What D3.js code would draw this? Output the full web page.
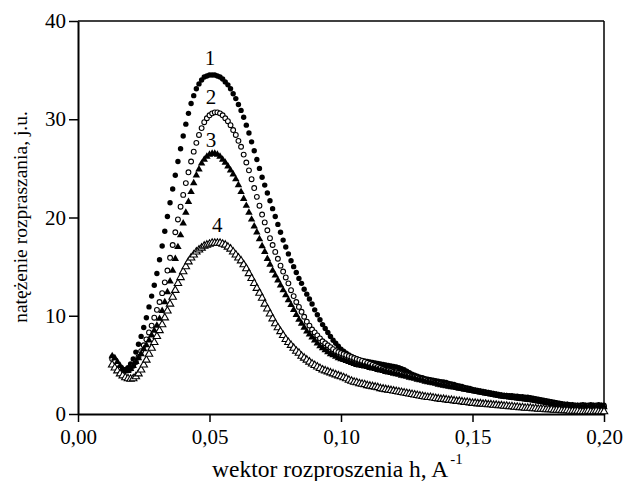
<!DOCTYPE html>
<html>
<head>
<meta charset="utf-8">
<script src="https://cdn.jsdelivr.net/npm/d3@7"></script>
<style>
  body { margin: 0; background: #fff; }
  text { font-family: "Liberation Serif", "Times New Roman", serif; fill: #000; }
</style>
</head>
<body>
<svg id="chart" width="633" height="481"></svg>
<script>
// measurement grid: h from 0.013 to 0.200, step 0.001
var hStart = 0.013;
var hStep = 0.001;

var xTicks = [0, 0.05, 0.10, 0.15, 0.20];
var yTicks = [0, 10, 20, 30, 40];

// 1 - filled circles
var series1 = [
  5.8, 5.4, 5.0, 4.7, 4.5, 4.5, 4.7, 5.1, 5.6, 6.3,
  7.1, 7.9, 8.8, 9.8, 10.9, 12.0, 13.1, 14.3, 15.7, 17.1,
  18.6, 20.1, 21.5, 22.9, 24.3, 25.7, 27.0, 28.3, 29.5, 30.6,
  31.6, 32.4, 33.1, 33.6, 34.0, 34.3, 34.4, 34.5, 34.5, 34.5,
  34.4, 34.3, 34.1, 33.8, 33.5, 33.1, 32.6, 32.1, 31.5, 30.9,
  30.2, 29.4, 28.6, 27.7, 26.8, 25.9, 25.0, 24.1, 23.3, 22.5,
  21.7, 20.9, 20.1, 19.3, 18.5, 17.7, 17.0, 16.3, 15.6, 15.0,
  14.4, 13.8, 13.3, 12.7, 12.2, 11.7, 11.2, 10.6, 10.1, 9.6,
  9.1, 8.7, 8.3, 7.9, 7.5, 7.2, 6.9, 6.6, 6.4, 6.2,
  6.0, 5.85, 5.7, 5.6, 5.5, 5.45, 5.4, 5.35, 5.3, 5.25,
  5.2, 5.15, 5.1, 5.05, 5.0, 4.95, 4.9, 4.85, 4.8, 4.7,
  4.6, 4.5, 4.35, 4.2, 4.05, 3.95, 3.85, 3.75, 3.7, 3.6,
  3.55, 3.5, 3.45, 3.4, 3.35, 3.3, 3.25, 3.2, 3.1, 3.05,
  3.0, 2.9, 2.85, 2.8, 2.7, 2.65, 2.6, 2.5, 2.45, 2.4,
  2.35, 2.3, 2.25, 2.2, 2.15, 2.1, 2.05, 2.0, 1.95, 1.9,
  1.9, 1.85, 1.85, 1.8, 1.8, 1.75, 1.75, 1.7, 1.7, 1.65,
  1.6, 1.55, 1.5, 1.45, 1.4, 1.35, 1.3, 1.25, 1.2, 1.15,
  1.1, 1.05, 1.0, 1.0, 0.95, 0.95, 0.9, 0.9, 0.9, 0.95,
  0.9, 0.9, 0.95, 0.9, 0.9, 0.95, 0.9, 0.9
];

// 2 - open circles
var series2 = [
  5.6, 5.3, 5.0, 4.7, 4.5, 4.4, 4.45, 4.6, 4.9, 5.3,
  5.8, 6.4, 7.0, 7.6, 8.3, 9.0, 9.8, 10.6, 11.4, 12.3,
  13.4, 14.6, 15.9, 17.2, 18.5, 19.8, 21.1, 22.3, 23.5, 24.6,
  25.7, 26.7, 27.6, 28.4, 29.1, 29.7, 30.1, 30.4, 30.6, 30.7,
  30.7, 30.6, 30.4, 30.1, 29.8, 29.4, 28.9, 28.4, 27.8, 27.2,
  26.4, 25.6, 24.8, 23.9, 23.0, 22.1, 21.2, 20.3, 19.5, 18.7,
  17.9, 17.2, 16.5, 15.8, 15.1, 14.5, 13.9, 13.3, 12.6, 12.0,
  11.4, 10.9, 10.4, 9.9, 9.4, 9.0, 8.6, 8.3, 8.0, 7.7,
  7.4, 7.2, 7.0, 6.8, 6.6, 6.4, 6.3, 6.2, 6.1, 6.0,
  5.9, 5.8, 5.7, 5.6, 5.5, 5.4, 5.3, 5.2, 5.1, 5.0,
  4.9, 4.8, 4.7, 4.6, 4.5, 4.45, 4.4, 4.3, 4.25, 4.2,
  4.1, 4.0, 3.95, 3.9, 3.8, 3.75, 3.7, 3.6, 3.55, 3.5,
  3.4, 3.35, 3.3, 3.2, 3.15, 3.1, 3.0, 2.95, 2.9, 2.85,
  2.8, 2.7, 2.65, 2.6, 2.55, 2.5, 2.45, 2.4, 2.35, 2.3,
  2.25, 2.2, 2.15, 2.1, 2.05, 2.0, 1.95, 1.9, 1.85, 1.8,
  1.8, 1.75, 1.7, 1.7, 1.65, 1.6, 1.6, 1.55, 1.5, 1.5,
  1.45, 1.4, 1.35, 1.3, 1.25, 1.2, 1.15, 1.1, 1.05, 1.0,
  0.95, 0.95, 0.9, 0.9, 0.85, 0.85, 0.8, 0.8, 0.8, 0.8,
  0.75, 0.8, 0.75, 0.75, 0.8, 0.75, 0.75, 0.75
];

// 3 - filled triangles
var series3 = [
  5.9, 5.7, 5.3, 4.9, 4.6, 4.4, 4.4, 4.6, 4.9, 5.3,
  5.7, 6.1, 6.6, 7.0, 7.5, 8.0, 8.5, 9.0, 9.7, 10.5,
  11.4, 12.4, 13.5, 14.6, 15.8, 17.0, 18.2, 19.4, 20.5, 21.6,
  22.6, 23.5, 24.3, 24.9, 25.5, 25.9, 26.2, 26.4, 26.5, 26.5,
  26.4, 26.2, 25.9, 25.6, 25.2, 24.8, 24.4, 23.9, 23.3, 22.6,
  21.9, 21.2, 20.5, 19.8, 19.1, 18.5, 17.8, 17.1, 16.5, 15.8,
  15.2, 14.6, 14.1, 13.6, 13.1, 12.6, 12.1, 11.6, 11.1, 10.6,
  10.1, 9.6, 9.2, 8.8, 8.4, 8.1, 7.8, 7.5, 7.2, 6.9,
  6.7, 6.5, 6.3, 6.1, 6.0, 5.85, 5.7, 5.6, 5.5, 5.4,
  5.3, 5.2, 5.1, 5.0, 4.95, 4.9, 4.85, 4.8, 4.7, 4.65,
  4.6, 4.5, 4.45, 4.4, 4.3, 4.25, 4.2, 4.1, 4.05, 4.0,
  3.9, 3.85, 3.8, 3.7, 3.65, 3.6, 3.5, 3.45, 3.4, 3.3,
  3.25, 3.2, 3.15, 3.1, 3.0, 2.95, 2.9, 2.85, 2.8, 2.75,
  2.7, 2.65, 2.6, 2.55, 2.5, 2.45, 2.4, 2.35, 2.3, 2.25,
  2.2, 2.15, 2.1, 2.05, 2.0, 1.95, 1.9, 1.85, 1.8, 1.8,
  1.75, 1.7, 1.7, 1.65, 1.6, 1.6, 1.55, 1.5, 1.5, 1.45,
  1.4, 1.35, 1.3, 1.25, 1.2, 1.15, 1.1, 1.05, 1.0, 0.95,
  0.9, 0.9, 0.85, 0.85, 0.8, 0.8, 0.75, 0.75, 0.75, 0.7,
  0.75, 0.7, 0.7, 0.75, 0.7, 0.7, 0.75, 0.7
];

// 4 - open triangles
var series4 = [
  5.0, 4.7, 4.4, 4.1, 3.9, 3.7, 3.6, 3.55, 3.6, 3.8,
  4.1, 4.5, 5.0, 5.5, 6.1, 6.7, 7.3, 7.9, 8.5, 9.1,
  9.8, 10.5, 11.2, 11.9, 12.6, 13.3, 13.9, 14.5, 15.0, 15.5,
  15.9, 16.2, 16.5, 16.7, 16.9, 17.1, 17.2, 17.3, 17.4, 17.4,
  17.4, 17.4, 17.3, 17.2, 17.0, 16.8, 16.5, 16.2, 15.9, 15.6,
  15.2, 14.8, 14.3, 13.8, 13.3, 12.8, 12.3, 11.8, 11.2, 10.7,
  10.2, 9.7, 9.2, 8.8, 8.4, 8.0, 7.6, 7.3, 7.0, 6.7,
  6.4, 6.2, 5.9, 5.7, 5.5, 5.3, 5.1, 4.95, 4.8, 4.65,
  4.5, 4.4, 4.3, 4.2, 4.1, 4.0, 3.9, 3.8, 3.7, 3.6,
  3.45, 3.35, 3.25, 3.2, 3.1, 3.05, 3.0, 2.9, 2.85, 2.8,
  2.75, 2.7, 2.6, 2.55, 2.5, 2.45, 2.4, 2.35, 2.3, 2.25,
  2.2, 2.15, 2.1, 2.05, 2.0, 1.95, 1.9, 1.85, 1.8, 1.75,
  1.7, 1.7, 1.65, 1.6, 1.55, 1.5, 1.5, 1.45, 1.4, 1.4,
  1.35, 1.3, 1.3, 1.25, 1.2, 1.2, 1.15, 1.1, 1.1, 1.05,
  1.05, 1.0, 1.0, 0.95, 0.95, 0.9, 0.9, 0.85, 0.85, 0.8,
  0.8, 0.75, 0.75, 0.7, 0.7, 0.65, 0.65, 0.6, 0.6, 0.6,
  0.55, 0.55, 0.5, 0.5, 0.5, 0.45, 0.45, 0.45, 0.4, 0.4,
  0.4, 0.35, 0.35, 0.35, 0.3, 0.3, 0.3, 0.3, 0.25, 0.25,
  0.25, 0.3, 0.25, 0.25, 0.3, 0.25, 0.25, 0.25
];

// curve numbers written above the peaks
var labelText = ["1", "2", "3", "4"];
var labelH = [0.0502, 0.0506, 0.0506, 0.0529];
var labelV = [35.5, 31.6, 27.2, 18.5];

var svg = d3.select("#chart");

var xScale = d3.scaleLinear().domain([0, 0.2]).range([78, 604]);
var yScale = d3.scaleLinear().domain([0, 40]).range([414, 21]);

function toPoints(values) {
    return values.map(function (v, i) {
        return { h: hStart + i * hStep, v: v };
    });
}

// frame (top and right)
svg.append("line")
    .attr("x1", xScale(0)).attr("x2", xScale(0.2))
    .attr("y1", yScale(40)).attr("y2", yScale(40))
    .attr("stroke", "black").attr("stroke-width", 1.5);
svg.append("line")
    .attr("x1", xScale(0.2)).attr("x2", xScale(0.2))
    .attr("y1", yScale(40)).attr("y2", yScale(0))
    .attr("stroke", "black").attr("stroke-width", 1.5);

var xAxis = d3.axisBottom(xScale)
    .tickValues(xTicks)
    .tickFormat(function (d) { return d3.format(".2f")(d).replace(".", ","); })
    .tickSizeInner(8)
    .tickSizeOuter(0)
    .tickPadding(7);

var yAxis = d3.axisLeft(yScale)
    .tickValues(yTicks)
    .tickSizeInner(9)
    .tickSizeOuter(0)
    .tickPadding(3);

var gx = svg.append("g")
    .attr("transform", "translate(0," + yScale(0) + ")")
    .call(xAxis);
var gy = svg.append("g")
    .attr("transform", "translate(" + xScale(0) + ",0)")
    .call(yAxis);

[gx, gy].forEach(function (g) {
    g.select(".domain").attr("stroke", "black").attr("stroke-width", 2);
    g.selectAll(".tick line").attr("stroke", "black").attr("stroke-width", 1.5);
    g.selectAll(".tick text")
        .attr("font-size", 21)
        .attr("fill", "black");
});

// markers
var g1 = svg.append("g");
g1.selectAll("circle")
    .data(toPoints(series1))
    .enter()
    .append("circle")
    .attr("cx", function (d) { return xScale(d.h); })
    .attr("cy", function (d) { return yScale(d.v); })
    .attr("r", 2.7)
    .attr("fill", "black");

var g2 = svg.append("g");
g2.selectAll("circle")
    .data(toPoints(series2))
    .enter()
    .append("circle")
    .attr("cx", function (d) { return xScale(d.h); })
    .attr("cy", function (d) { return yScale(d.v); })
    .attr("r", 2.4)
    .attr("fill", "white")
    .attr("stroke", "black")
    .attr("stroke-width", 1.1);

var tri = d3.symbol().type(d3.symbolTriangle).size(24);

var g3 = svg.append("g");
g3.selectAll("path")
    .data(toPoints(series3))
    .enter()
    .append("path")
    .attr("d", tri)
    .attr("transform", function (d) {
        return "translate(" + xScale(d.h) + "," + yScale(d.v) + ")";
    })
    .attr("fill", "black");

var g4 = svg.append("g");
g4.selectAll("path")
    .data(toPoints(series4))
    .enter()
    .append("path")
    .attr("d", tri)
    .attr("transform", function (d) {
        return "translate(" + xScale(d.h) + "," + yScale(d.v) + ")";
    })
    .attr("fill", "white")
    .attr("stroke", "black")
    .attr("stroke-width", 1.1);

// curve numbers
svg.selectAll(".curve-label")
    .data(labelText)
    .enter()
    .append("text")
    .attr("class", "curve-label")
    .attr("x", function (d, i) { return xScale(labelH[i]); })
    .attr("y", function (d, i) { return yScale(labelV[i]); })
    .attr("text-anchor", "middle")
    .attr("font-size", 21)
    .text(function (d) { return d; });

// axis titles
var xTitle = svg.append("text")
    .attr("x", 212)
    .attr("y", 477)
    .attr("font-size", 23.5);
xTitle.append("tspan").text("wektor rozproszenia h, A");
xTitle.append("tspan")
    .attr("dx", 2)
    .attr("dy", -13)
    .attr("font-size", 15)
    .text("-1");

svg.append("text")
    .attr("transform", "translate(27," + 217 + ") rotate(-90)")
    .attr("text-anchor", "middle")
    .attr("font-size", 19.5)
    .text("natężenie rozpraszania, j.u.");
</script>
</body>
</html>
